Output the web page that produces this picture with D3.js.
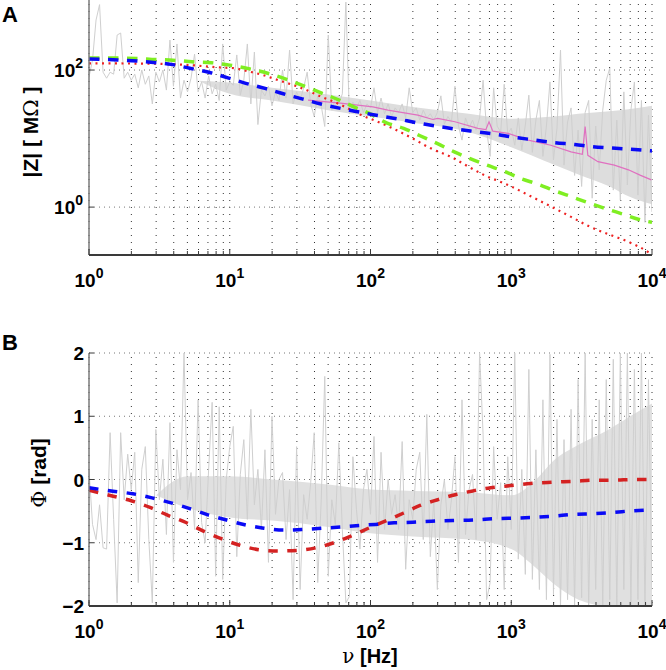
<!DOCTYPE html>
<html>
<head>
<meta charset="utf-8">
<script src="https://cdn.jsdelivr.net/npm/d3@7"></script>
<style>
  body { margin: 0; background: #fff; }
  svg { display: block; font-family: "Liberation Sans", Arial, Helvetica, sans-serif; }
</style>
</head>
<body>
<svg id="figure" width="666" height="670"></svg>
<script>
// ---------- DONNÉES ----------
// Axe des fréquences (Hz) : décades et exposants des étiquettes
const decadesFreq = [1, 10, 100, 1000, 10000]
const exposantsFreq = ['0', '1', '2', '3', '4']

// Panneau A : graduations de |Z| (MΩ)
const ticksZ = [1, 100]
const exposantsZ = ['0', '2']
// Panneau B : graduations de la phase (rad)
const ticksPhi = [2, 1, 0, -1, -2]
const etiquettesPhi = ['2', '1', '0', '\u22121', '\u22122']

// Mesures brutes (en gris) : un point tous les 1/40 de décade à partir de 1 Hz
const pasBruit = 0.025
const zMesure = [79,140,536,900,93,76,93,87,324,347,
  76,93,71,87,55,100,62,82,32,93,
  67,100,51,274,58,240,39,71,48,76,
  171,48,67,39,82,45,62,36,240,51,
  67,60,166,43,71,240,32,183,16,51,
  42,58,30,48,36,100,39,196,32,48,
  36,55,93,32,21,42,30,15,324,26,
  39,32,45,980,23,34,28,36,24,32,
  28,55,24,39,23,32,21,28,24,32,
  20,55,24,28,18.6,26,20,23,18.6,24,
  42,16.3,21,17.4,58,15.2,9.5,20,14.2,18.6,
  13.3,20,71,13.3,5.5,55,15.2,12.4,62,11.6,
  14.2,8.0,20,6.8,15.7,43,6.3,18.6,36,5.5,
  15.2,67,4.9,14.2,196,4.1,17.4,28,2.9,13.3,
  2.0,24,36,1.35,15.2,3.5,26,71,107,1.77,
  18.6,1.26,48,2.1,26,67,1.5,36,0.6,22,
  0.85]
const phiMesure = [0.16,-0.71,-0.95,-0.4,-1.08,-1.1,0.74,-0.63,-1.95,0.74,
  -0.32,0.4,-0.16,0.43,-1.63,0.16,0.52,-0.95,-1.95,0.79,
  -0.32,0.32,-0.87,0.9,-1.31,0.47,-0.16,2.0,-0.32,0.11,
  -0.79,1.26,-0.68,-1.0,0.16,1.22,-1.53,1.15,-1.58,0,
  0.52,0.84,-1.22,0.08,0.63,-0.63,1.11,-0.4,0.16,-0.79,
  0.47,-1.31,1.0,-0.55,0,0.11,-0.95,-0.16,-1.9,0.52,
  -1.74,-0.24,-0.63,-0.05,0.74,-1.63,-0.32,1.63,-1.53,-0.32,
  -0.71,0.58,-0.79,-1.95,-1.85,0.36,-0.47,-1.1,-0.16,0.16,
  -0.55,0.68,-1.31,0.43,-0.79,0,-0.55,-0.24,-0.79,0.6,
  -1.42,-0.32,-0.63,0.16,0.43,-0.95,1.03,-1.22,-0.32,-1.74,
  -0.4,0,-0.79,-0.32,0.36,-1.31,1.26,-0.87,-0.16,0.08,
  -0.95,2.0,0.71,-1.9,-1.63,0.52,-0.63,-0.05,-1.74,0.36,
  -0.79,2.0,-1.26,0.16,-1.5,1.74,-1.58,0.47,-1.74,1.26,
  -1.9,1.98,-1.82,0.95,-2,0.63,-1.9,1.11,-2,1.58,
  -1.87,2,-2,0.95,-1.74,1.26,-2,1.58,-1.9,1.9,
  -2,2,-1.74,2,-2,1.74,-1.9,2,-2,1.58,
  -1.74]

// Enveloppe de la partie dense des mesures
const freqEnvZ = [6, 10, 20, 50, 100, 200, 500, 1000, 2000, 3000, 5000, 7000, 10000]
const zEnvHaut = [70, 66, 55, 44, 36, 29, 23, 19.5, 21, 23, 25, 27, 30]
const zEnvBas = [70, 45, 36, 26, 21, 17, 12.5, 7.5, 4.2, 3.0, 2.0, 1.4, 1.1]
const freqEnvPhi = [3, 5, 10, 20, 50, 100, 200, 500, 1000, 1500, 2000, 3000, 5000, 7000, 10000]
const phiEnvHaut = [-0.25, 0.05, 0.05, 0, -0.08, -0.16, -0.18, -0.2, -0.25, 0.0, 0.3, 0.55, 0.8, 1.0, 1.2]
const phiEnvBas = [-0.25, -0.45, -0.6, -0.65, -0.75, -0.85, -0.9, -0.95, -1.1, -1.4, -1.65, -1.9, -2, -2, -2]

// Moyenne glissante des mesures (rose)
const freqRose = [36,61,104,133,217,277,300,398,580,660,695,740,950,1320,1910,2660,3200,3350,3500,4130,5400,6800,8300,9900]
const zRose = [36.5,33,29,26,22,19,19.7,17.6,14.1,13.5,17.6,12.8,11.9,9.5,8.0,6.4,5.9,15,5.7,4.6,4.1,3.5,2.9,2.5]

// Modèles du panneau A
const freqBleuA = [1,1.48,2.02,2.76,3.83,5.2,7.1,9.7,13,17.8,24,32.6,43.7,60,79,102,142,240,398,580,794,1000,1480,2040,2830,3800,5000,6900,10000]
const zBleuA = [145,141,137,130,121,106,93,77,64,54,45,38,32.2,27.8,24.9,22.5,20,16.3,13.8,12.5,11.5,10.6,9.5,8.7,8.2,7.6,7.3,7.0,6.6]
const freqVertA = [1,1.48,2.38,2.8,3.95,5.4,7.4,10,14.1,19.6,26.3,34.8,45,60,76,98,130,172,225,297,394,510,670,900,1170,1560,2040,2700,3550,4700,6200,8300,10000]
const zVertA = [150,150,146,143,139,132,128,118,103,87,71,57,46,36.5,29,23.3,17,14.1,11,8.5,6.4,5.1,4.1,3.3,2.6,2.15,1.73,1.41,1.15,0.95,0.79,0.65,0.6]
const freqRougeA = [1,2.7,5.2,8.5,10.9,13.9,17.2,22,30.6,36,44.5,55,67,86,108,144,200,268,370,495,650,900,1000,1320,1830,2660,3680,5100,7080,9400,10000]
const zRougeA = [125,124,118,109,106,94.5,84.5,71.4,57,50,41,34.4,28.5,22,18.2,14.1,10,7.2,5.45,3.9,2.9,2.2,2.0,1.5,1.07,0.72,0.51,0.39,0.30,0.22,0.2]

// Modèles du panneau B
const freqBleuB = [1,1.48,2.05,2.8,3.83,5.2,7.0,9.5,13,17.5,24.2,33,46,62,79,108,147,200,272,385,550,765,1050,1420,1970,2830,3850,5300,7200,10000]
const phiBleuB = [-0.13,-0.185,-0.226,-0.29,-0.37,-0.46,-0.56,-0.64,-0.72,-0.77,-0.8,-0.79,-0.77,-0.75,-0.73,-0.71,-0.685,-0.675,-0.66,-0.65,-0.64,-0.62,-0.61,-0.6,-0.58,-0.55,-0.54,-0.52,-0.495,-0.48]
const freqRougeB = [1,1.46,2.02,2.71,3.58,4.89,6.56,8.8,11.8,16.1,22,30.5,41,55,75,99,133,172,225,300,400,535,715,1000,1370,1950,2830,3850,5400,7300,10000]
const phiRougeB = [-0.17,-0.26,-0.34,-0.44,-0.56,-0.68,-0.82,-0.94,-1.04,-1.11,-1.13,-1.12,-1.08,-1.0,-0.88,-0.76,-0.64,-0.53,-0.41,-0.32,-0.24,-0.18,-0.13,-0.095,-0.063,-0.043,-0.027,-0.011,-0.011,0,0]

// ---------- DESSIN ----------
const svg = d3.select('#figure')
const gauche = 89, droite = 652

const x = d3.scaleLog().domain([1, 1e4]).range([gauche, droite])
const freqBruit = d3.range(zMesure.length).map(i => 10 ** (i * pasBruit))

// toutes les positions 1..9 x 10^k pour la grille et les petits taquets
const grilleX = []
decadesFreq.forEach(d => { for (let k = 1; k < 10; k++) if (d * k <= 1e4) grilleX.push(d * k) })

function associer(fs, vs) { return fs.map((f, i) => [f, vs[i]]) }

/**
 * On prépare un panneau : grille puis zone de dessin découpée.
 */
function preparerPanneau(id, y, haut, bas, ticksY) {
    const g = svg.append('g')
    svg.append('clipPath').attr('id', 'clip' + id).append('rect')
        .attr('x', gauche).attr('y', haut)
        .attr('width', droite - gauche).attr('height', bas - haut)

    // grille verticale pointillée
    g.selectAll('line.gv').data(grilleX).join('line')
        .attr('class', 'gv')
        .attr('x1', d => x(d)).attr('x2', d => x(d))
        .attr('y1', haut + 4).attr('y2', bas)
        .attr('stroke', '#333').attr('stroke-width', 1)
        .attr('stroke-dasharray', '1,6')
    // grille horizontale
    g.selectAll('line.gh').data(ticksY).join('line')
        .attr('class', 'gh')
        .attr('x1', gauche).attr('x2', droite)
        .attr('y1', d => y(d)).attr('y2', d => y(d))
        .attr('stroke', '#777').attr('stroke-width', 1)
        .attr('stroke-dasharray', '1,4')

    return svg.append('g').attr('clip-path', `url(#clip${id})`)
}

function dessinerAxes(y, haut, bas, ticksY) {
    const g = svg.append('g')
    // axe de gauche (gris)
    g.append('line')
        .attr('x1', gauche).attr('x2', gauche).attr('y1', haut).attr('y2', bas)
        .attr('stroke', '#7a7a7a').attr('stroke-width', 1.5)
    // axe du bas
    g.append('line')
        .attr('x1', gauche).attr('x2', droite).attr('y1', bas).attr('y2', bas)
        .attr('stroke', '#3a3a3a').attr('stroke-width', 2)
    // taquets du bas
    g.selectAll('line.tx').data(grilleX).join('line')
        .attr('x1', d => x(d)).attr('x2', d => x(d))
        .attr('y1', bas).attr('y2', d => decadesFreq.includes(d) ? bas - 6 : bas - 4)
        .attr('stroke', '#3a3a3a').attr('stroke-width', 1)
    // taquets de gauche
    g.selectAll('line.ty').data(ticksY).join('line')
        .attr('x1', gauche).attr('x2', gauche + 5)
        .attr('y1', d => y(d)).attr('y2', d => y(d))
        .attr('stroke', '#3a3a3a').attr('stroke-width', 1)
}

function etiquettesFreq(ligneBase) {
    decadesFreq.forEach((d, i) => {
        const t = svg.append('text')
            .attr('x', x(d)).attr('y', ligneBase)
            .attr('text-anchor', 'middle')
            .attr('font-size', 19).attr('font-weight', 'bold')
        t.append('tspan').text('10')
        t.append('tspan').attr('dy', -9).attr('font-size', 14).text(exposantsFreq[i])
    })
}

const courbe = (y) => d3.line().x(d => x(d[0])).y(d => y(d[1])).curve(d3.curveMonotoneX)
const brut = (y) => d3.line().x(d => x(d[0])).y(d => y(d[1]))
const bande = (y) => d3.area().x(d => x(d[0])).y0(d => y(d[1])).y1(d => y(d[2])).curve(d3.curveMonotoneX)

// ===== PANNEAU A =====
const hautA = 0, basA = 255
const yA = d3.scaleLog().domain([0.2, 1000]).range([basA, 1.5])
const zoneA = preparerPanneau('A', yA, hautA, basA, ticksZ)

zoneA.append('path')
    .attr('d', bande(yA)(freqEnvZ.map((f, i) => [f, zEnvBas[i], zEnvHaut[i]])))
    .attr('fill', '#dddddd')
zoneA.append('path')
    .attr('d', brut(yA)(associer(freqBruit, zMesure)))
    .attr('fill', 'none').attr('stroke', '#cfcfcf').attr('stroke-width', 1)
zoneA.append('path')
    .attr('d', brut(yA)(associer(freqRose, zRose)))
    .attr('fill', 'none').attr('stroke', '#e070c0').attr('stroke-width', 1.2)
zoneA.append('path')
    .attr('d', courbe(yA)(associer(freqRougeA, zRougeA)))
    .attr('fill', 'none').attr('stroke', '#ee2222').attr('stroke-width', 2.2)
    .attr('stroke-dasharray', '2,4.5')
zoneA.append('path')
    .attr('d', courbe(yA)(associer(freqVertA, zVertA)))
    .attr('fill', 'none').attr('stroke', '#7fee22').attr('stroke-width', 3.5)
    .attr('stroke-dasharray', '10.5,8.5')
zoneA.append('path')
    .attr('d', courbe(yA)(associer(freqBleuA, zBleuA)))
    .attr('fill', 'none').attr('stroke', '#0a0af5').attr('stroke-width', 3.5)
    .attr('stroke-dasharray', '10.5,8.5')

dessinerAxes(yA, hautA, basA, ticksZ)
etiquettesFreq(287)
ticksZ.forEach((v, i) => {
    const t = svg.append('text')
        .attr('x', 83).attr('y', yA(v) + 7)
        .attr('text-anchor', 'end')
        .attr('font-size', 19).attr('font-weight', 'bold')
    t.append('tspan').text('10')
    t.append('tspan').attr('dy', -9).attr('font-size', 14).text(exposantsZ[i])
})
const titreA = svg.append('text')
    .attr('transform', 'translate(38,132) rotate(-90)')
    .attr('text-anchor', 'middle')
    .attr('font-size', 21).attr('font-weight', 'bold')
titreA.append('tspan').text('|Z| [ M')
titreA.append('tspan').attr('font-family', '"DejaVu Serif", serif').attr('font-weight', 'normal').text('Ω')
titreA.append('tspan').text(' ]')
svg.append('text').attr('x', 2).attr('y', 22)
    .attr('font-size', 22).attr('font-weight', 'bold').text('A')

// ===== PANNEAU B =====
const hautB = 353, basB = 606
const yB = d3.scaleLinear().domain([-2, 2]).range([basB, hautB])
const zoneB = preparerPanneau('B', yB, hautB, basB, ticksPhi.filter(v => v > -2))

zoneB.append('path')
    .attr('d', bande(yB)(freqEnvPhi.map((f, i) => [f, phiEnvBas[i], phiEnvHaut[i]])))
    .attr('fill', '#e0e0e0')
zoneB.append('path')
    .attr('d', brut(yB)(associer(freqBruit, phiMesure)))
    .attr('fill', 'none').attr('stroke', '#cfcfcf').attr('stroke-width', 1)
zoneB.append('path')
    .attr('d', courbe(yB)(associer(freqRougeB, phiRougeB)))
    .attr('fill', 'none').attr('stroke', '#d42222').attr('stroke-width', 3.5)
    .attr('stroke-dasharray', '9.5,9.5')
zoneB.append('path')
    .attr('d', courbe(yB)(associer(freqBleuB, phiBleuB)))
    .attr('fill', 'none').attr('stroke', '#0a0af5').attr('stroke-width', 3.5)
    .attr('stroke-dasharray', '9.5,9.5')

dessinerAxes(yB, hautB, basB, ticksPhi)
etiquettesFreq(638)
ticksPhi.forEach((v, i) => {
    svg.append('text')
        .attr('x', 84).attr('y', yB(v) + 7)
        .attr('text-anchor', 'end')
        .attr('font-size', 19).attr('font-weight', 'bold')
        .text(etiquettesPhi[i])
})
const titreB = svg.append('text')
    .attr('transform', 'translate(46,473) rotate(-90)')
    .attr('text-anchor', 'middle')
    .attr('font-size', 21).attr('font-weight', 'bold')
titreB.append('tspan').attr('font-family', '"DejaVu Serif", serif').attr('font-weight', 'normal').text('Φ')
titreB.append('tspan').text(' [rad]')
svg.append('text').attr('x', 2).attr('y', 350)
    .attr('font-size', 22).attr('font-weight', 'bold').text('B')

const titreX = svg.append('text')
    .attr('x', 370).attr('y', 663)
    .attr('text-anchor', 'middle')
    .attr('font-size', 20).attr('font-weight', 'bold')
titreX.append('tspan').attr('font-family', '"DejaVu Serif", serif').attr('font-weight', 'normal').text('ν')
titreX.append('tspan').text(' [Hz]')
</script>
</body>
</html>
